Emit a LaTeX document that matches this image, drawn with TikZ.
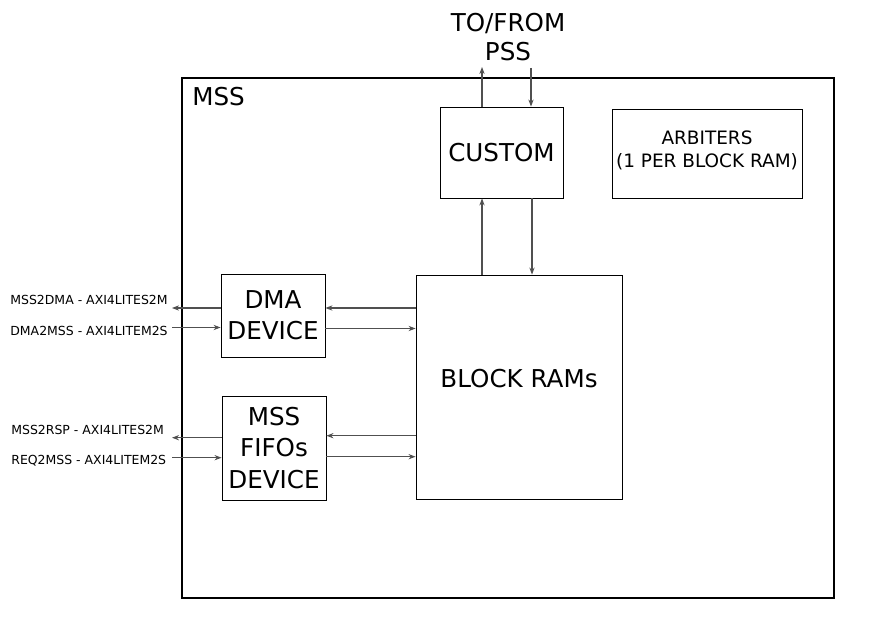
\documentclass[tikz,border=0pt]{standalone}
\usepackage{fontspec}
\setmainfont{DejaVu Sans}
\usetikzlibrary{arrows.meta,positioning,calc}
\definecolor{MssLine}{HTML}{505050}
\begin{document}
\begin{tikzpicture}[x=0.02cm,y=-0.02cm,>={Stealth[length=4pt,width=3pt]}]
  \tikzset{blockbox/.style={draw=black, line width=0.5pt, inner sep=0pt, align=center, font=\fontsize{14}{17.8}\selectfont},
    sigline/.style={draw=MssLine, line width=0.6pt},
    portlabel/.style={anchor=west, inner sep=0pt, font=\fontsize{7.1}{8}\selectfont}}
  \useasboundingbox (0,0) rectangle (886,638);
  % outer MSS block
  \node[draw=black, line width=1.1pt, minimum width=13.04cm, minimum height=10.4cm] (mss) at (508,338) {};
  \node[anchor=west, inner sep=0pt, font=\fontsize{14}{17.5}\selectfont] (msslabel) at (192,97) {MSS};
  \node[align=center, inner sep=0pt, font=\fontsize{14}{17}\selectfont] (pss) at (508,37) {TO/FROM\\PSS};
  % inner blocks
  \node[blockbox, minimum width=2.46cm, minimum height=1.82cm] (custom) at (501.5,152.5) {CUSTOM};
  \node[blockbox, minimum width=3.8cm, minimum height=1.78cm, text depth=5pt, font=\fontsize{10.5}{13.6}\selectfont] (arbiters) at (707,153.5) {ARBITERS\\(1 PER BLOCK RAM)};
  \node[blockbox, minimum width=2.08cm, minimum height=1.66cm] (dma) at (273,315.5) {DMA\\DEVICE};
  \node[blockbox, minimum width=2.08cm, minimum height=2.08cm] (fifos) at (274,448) {MSS\\FIFOs\\DEVICE};
  \node[blockbox, minimum width=4.12cm, minimum height=4.48cm, text depth=10pt] (brams) at (519,387) {BLOCK RAMs};
  % external port labels
  \node[portlabel] (l1) at (10,300) {MSS2DMA - AXI4LITES2M};
  \node[portlabel] (l2) at (10,331) {DMA2MSS - AXI4LITEM2S};
  \node[portlabel] (l3) at (11,429.5) {MSS2RSP - AXI4LITES2M};
  \node[portlabel] (l4) at (11,460.5) {REQ2MSS - AXI4LITEM2S};
  \coordinate (pssout) at (482,67);
  \coordinate (pssin) at (531,68);
  \coordinate (dmaout) at (172,308);
  \coordinate (dmain) at (172,327.5);
  \coordinate (rspout) at (172,437.7);
  \coordinate (reqin) at (172,457.7);
  % vertical links
  \draw[sigline,->] (custom.north -| pssout) -- (pssout);
  \draw[sigline,->] (pssin) -- (custom.north -| pssin);
  \draw[sigline,->] (brams.north -| 482,0) -- (custom.south -| 482,0);
  \draw[sigline,->] (custom.south -| 532,0) -- (brams.north -| 532,0);
  % horizontal links
  \foreach \a/\b/\yy in {brams/dma/308,brams/fifos/435.7}{\draw[sigline,->] (\a.west |- 0,\yy) -- (\b.east |- 0,\yy);}
  \foreach \a/\b/\yy in {dma/brams/328.5,fifos/brams/456.7}{\draw[sigline,->] (\a.east |- 0,\yy) -- (\b.west |- 0,\yy);}
  \draw[sigline,->] (dma.west |- dmaout) -- (dmaout);
  \draw[sigline,->] (dmain) -- (dma.west |- dmain);
  \draw[sigline,->] (fifos.west |- rspout) -- (rspout);
  \draw[sigline,->] (reqin) -- (fifos.west |- reqin);
\end{tikzpicture}
\end{document}
